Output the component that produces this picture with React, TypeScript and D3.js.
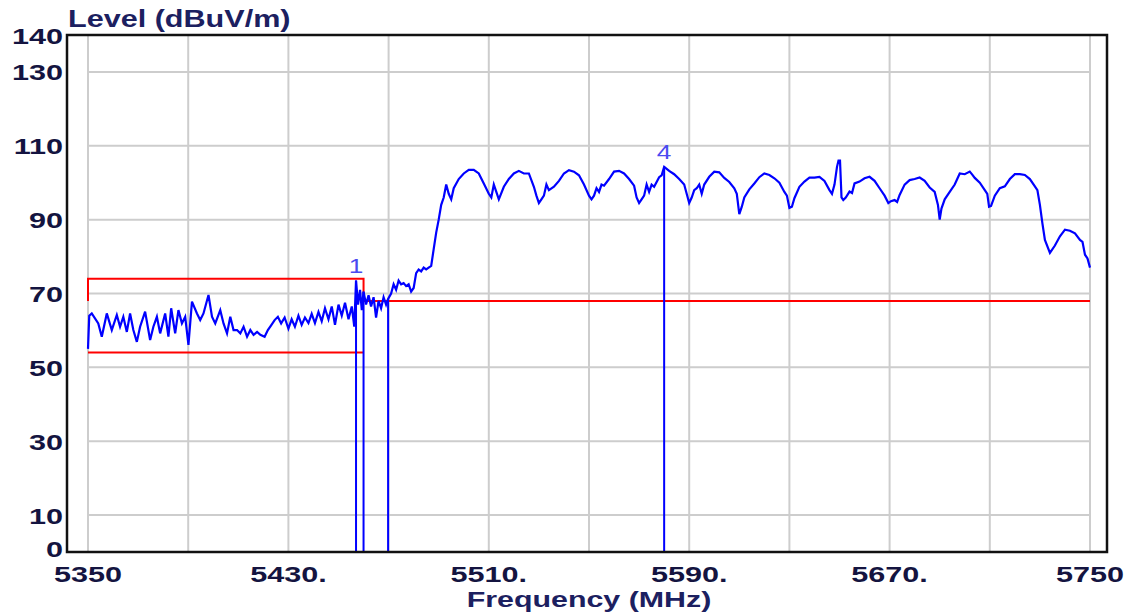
import React from "react";
import * as d3 from "d3";

const W = 1134;
const H = 613;

const xDomain: [number, number] = [5350, 5750];
const yDomain: [number, number] = [0, 140];
const xTicks = [5350, 5430, 5510, 5590, 5670, 5750];
const xTickLabels = ["5350", "5430.", "5510.", "5590.", "5670.", "5750"];
const xGrid = [5350, 5390, 5430, 5470, 5510, 5550, 5590, 5630, 5670, 5710, 5750];
const yTicks = [0, 10, 30, 50, 70, 90, 110, 130, 140];
const yGrid = [10, 30, 50, 70, 90, 110, 130];

const yTitle = "Level (dBuV/m)";
const xTitle = "Frequency (MHz)";

// Limit lines (MHz, dBuV/m)
const peakLimit: [number, number][] = [
  [5350, 68], [5350, 74], [5460, 74], [5460, 68], [5750, 68],
];
const avgLimit: [number, number][] = [
  [5350, 54], [5460, 54],
];

// Markers
const markerNames = ["1", "2", "3", "4"];
const markerFreq = [5457, 5460, 5469.8, 5580];
const markerLevel = [73.5, 70.5, 68.5, 104.3];
const markerShowLabel = [true, false, false, true];

// Measured trace (MHz, dBuV/m)
const trace: [number, number][] = [
  [5350, 55], [5350.5, 64], [5351.5, 64.6], [5354.1, 61.9], [5355.5, 58.3], [5357.5, 64.6],
  [5359.5, 60.1], [5361.5, 64.2], [5362.8, 61.0], [5364.1, 63.7], [5365.5, 59.6], [5366.8, 64.6],
  [5368.1, 60.1], [5369.5, 56.9], [5370.8, 61.0], [5372.8, 65.1], [5374.8, 57.4], [5376.1, 61.0],
  [5377.5, 63.7], [5378.8, 59.2], [5380.8, 64.6], [5382.1, 58.3], [5383.2, 66.0], [5384.8, 59.2],
  [5386.1, 65.5], [5387.5, 61.9], [5388.8, 63.7], [5390.1, 56.1], [5391.5, 67.8], [5393.5, 64.6],
  [5394.8, 62.8], [5396.1, 64.6], [5398.1, 69.6], [5399.5, 63.7], [5400.8, 61.9], [5402.8, 65.5],
  [5404.1, 61.9], [5405.5, 59.2], [5406.8, 63.7], [5408.1, 60.1], [5409.5, 60.1], [5410.8, 59.2],
  [5412.1, 61.0], [5413.5, 58.3], [5414.8, 60.1], [5416.1, 58.8], [5417.5, 59.6], [5418.8, 58.8],
  [5420.5, 58.3], [5421.8, 60.1], [5423.1, 61.4], [5424.5, 62.8], [5425.8, 63.7], [5427.1, 61.9],
  [5428.5, 63.5], [5430, 60.5], [5431.3, 63], [5432.6, 61], [5434, 64], [5435.3, 61.5],
  [5436.6, 63.5], [5438, 62], [5439.3, 64.5], [5440.6, 62], [5442, 65], [5443.3, 62.5],
  [5444.6, 66], [5446, 63], [5447.3, 66.5], [5448.6, 61.5], [5450, 67], [5451.3, 64],
  [5452.6, 67.5], [5454, 63], [5455.3, 66.5], [5456.3, 61], [5457, 73.5], [5457.8, 67],
  [5458.6, 71], [5459.3, 65.5], [5460, 70.5], [5461, 67], [5462, 69.5], [5463, 66.5],
  [5464, 69], [5465, 63.5], [5466, 68], [5467, 66], [5468, 69], [5469, 67],
  [5469.8, 68.5], [5471, 70], [5472, 72.5], [5473, 71], [5474, 73.5], [5475, 72.5],
  [5476, 72.8], [5477, 72], [5478, 72.5], [5479, 70.5], [5480, 71.5], [5481, 75.5],
  [5482, 76.5], [5483, 76], [5484, 77], [5485, 76.5], [5486, 77], [5487, 77.5],
  [5488, 82], [5489, 86.5], [5490, 90], [5491, 94], [5492, 96], [5493, 99.5],
  [5494, 97], [5495, 95.5], [5496, 98.5], [5498, 101], [5500, 102.5], [5502, 103.5],
  [5504, 103.5], [5506, 102.5], [5508, 99.8], [5510, 97], [5511, 96], [5512, 99.5],
  [5513, 97.5], [5514, 95.5], [5516, 98.9], [5518, 101], [5520, 102.5], [5522, 103.2],
  [5524, 102.5], [5526, 102.5], [5528, 98.9], [5529, 96.5], [5530, 94.5], [5531, 95.5],
  [5532, 96.5], [5533, 99.5], [5534, 98], [5536, 98.9], [5538, 100.5], [5540, 102.5],
  [5542, 103.4], [5544, 103], [5546, 102], [5548, 99.5], [5550, 96.5], [5551, 95.5],
  [5552, 96.5], [5553, 98.5], [5554, 97.5], [5555, 99.5], [5556, 99.2], [5558, 101],
  [5560, 103], [5562, 103.2], [5564, 102.5], [5566, 101], [5568, 99.2], [5569, 96],
  [5570, 94.5], [5571, 95.5], [5572, 96.5], [5573, 99.5], [5574, 97.5], [5575, 99.5],
  [5576, 98.9], [5578, 101.5], [5579, 102], [5580, 104.3], [5582, 103.2], [5584, 102.3],
  [5586, 101], [5588, 99.5], [5589, 97], [5590, 94.5], [5591, 96], [5592, 98],
  [5593, 98.5], [5594, 99.5], [5595, 97], [5596, 99.5], [5598, 101.6], [5600, 103],
  [5602, 102.8], [5604, 101.3], [5606, 100.2], [5608, 98.5], [5609, 97], [5610, 91.5],
  [5611, 93.5], [5612, 96], [5614, 98.2], [5616, 99.8], [5618, 101.5], [5620, 102.5],
  [5622, 102.1], [5624, 101.2], [5626, 100], [5628, 97.5], [5629, 96.5], [5630, 93.2],
  [5631, 93.5], [5632, 95.8], [5634, 98.9], [5636, 100.3], [5638, 101.4], [5640, 101.4],
  [5642, 101.6], [5644, 100.5], [5646, 98], [5647, 97], [5648, 99.5], [5649, 104.3],
  [5649.6, 106], [5650.2, 106], [5650.8, 96], [5651.5, 95.3], [5652.5, 96], [5654, 97.6],
  [5655, 97.2], [5656, 99.8], [5658, 100.3], [5660, 101.2], [5662, 101.6], [5664, 100.5],
  [5666, 98.5], [5668, 96.5], [5669.5, 94.5], [5670.5, 95], [5672, 95.3], [5673, 94.8],
  [5674, 96.7], [5676, 99.5], [5678, 100.7], [5680, 101], [5682, 101.4], [5684, 100.5],
  [5686, 98.7], [5688, 97.5], [5689.3, 94], [5690, 90], [5690.7, 93], [5692, 95.5],
  [5694, 97.5], [5696, 99.5], [5698, 102.5], [5700, 102.3], [5702, 103], [5703, 102.2],
  [5704, 101.3], [5706, 100], [5708, 98], [5709, 97], [5709.7, 93.5], [5710.5, 93.7],
  [5712, 96.5], [5714, 98.5], [5716, 99], [5718, 101], [5720, 102.3], [5722, 102.3],
  [5724, 102.1], [5726, 101], [5728, 99], [5729, 98], [5730, 94], [5731, 89],
  [5732, 84.5], [5734, 81], [5736, 83], [5738, 85.5], [5740, 87.3], [5742, 87],
  [5744, 86.3], [5746, 84.5], [5747, 84], [5748, 80.5], [5749, 79.5], [5750, 77],
];

const FONT = "'Liberation Sans', Arial, sans-serif";
const TEXT_COLOR = "#141440";
const STRETCH = 1.33;

export default function App() {
  const x = d3.scaleLinear().domain(xDomain).range([88, 1090]);
  const y = d3.scaleLinear().domain(yDomain).range([552, 35]);
  const line = d3
    .line<[number, number]>()
    .x((d) => x(d[0]))
    .y((d) => y(d[1]));

  const frameLeft = 67;
  const frameRight = 1107;

  return (
    <div style={{ position: "absolute", left: 0, top: 0 }}>
      <svg width={W} height={H} style={{ display: "block", background: "#fff" }}>
        <rect x={0} y={0} width={W} height={H} fill="#fff" />
        {/* grid */}
        {xGrid.map((f) => (
          <line key={"gx" + f} x1={x(f)} x2={x(f)} y1={y(140)} y2={y(0)} stroke="#cdcdcd" strokeWidth={2} />
        ))}
        {yGrid.map((v) => (
          <line key={"gy" + v} x1={x(5350)} x2={x(5750)} y1={y(v)} y2={y(v)} stroke="#cdcdcd" strokeWidth={2} />
        ))}
        {/* limits */}
        <path d={line(peakLimit) || ""} fill="none" stroke="#ff0000" strokeWidth={2} />
        <path d={line(avgLimit) || ""} fill="none" stroke="#ff0000" strokeWidth={2} />
        {/* markers */}
        {markerFreq.map((f, i) => (
          <line key={"m" + i} x1={x(f)} x2={x(f)} y1={y(0)} y2={y(markerLevel[i])} stroke="#0000ff" strokeWidth={2} />
        ))}
        {/* trace */}
        <path d={line(trace) || ""} fill="none" stroke="#0000ff" strokeWidth={2.2} strokeLinejoin="miter" />
        {markerFreq.map((f, i) =>
          markerShowLabel[i] ? (
            <text
              key={"ml" + i}
              transform={`translate(${x(f)},${y(markerLevel[i]) - 8}) scale(1.25,1)`}
              textAnchor="middle"
              fontFamily={FONT}
              fontSize={21}
              fill="#4a4af0"
            >
              {markerNames[i]}
            </text>
          ) : null
        )}
        {/* frame */}
        <rect
          x={frameLeft}
          y={y(140)}
          width={frameRight - frameLeft}
          height={y(0) - y(140)}
          fill="none"
          stroke="#111"
          strokeWidth={2.5}
        />
        {/* y tick labels */}
        {yTicks.map((v) => (
          <text
            key={"yt" + v}
            transform={`translate(63,${y(v) + (v === 0 ? 4.5 : 8.5)}) scale(1.39,1)`}
            textAnchor="end"
            fontFamily={FONT}
            fontWeight="bold"
            fontSize={22}
            fill={TEXT_COLOR}
          >
            {String(v)}
          </text>
        ))}
        {/* x tick labels */}
        {xTicks.map((f, i) => (
          <text
            key={"xt" + f}
            transform={`translate(${x(f)},581.5) scale(1.39,1)`}
            textAnchor="middle"
            fontFamily={FONT}
            fontWeight="bold"
            fontSize={22}
            fill={TEXT_COLOR}
          >
            {xTickLabels[i]}
          </text>
        ))}
        {/* titles */}
        <text
          transform={`translate(68,26.5) scale(${STRETCH},1)`}
          fontFamily={FONT}
          fontWeight="bold"
          fontSize={23}
          fill="#1c2060"
        >
          {yTitle}
        </text>
        <text
          transform={`translate(${(x(5350) + x(5750)) / 2},606.5) scale(1.38,1)`}
          textAnchor="middle"
          fontFamily={FONT}
          fontWeight="bold"
          fontSize={22}
          fill="#1c2060"
        >
          {xTitle}
        </text>
      </svg>
    </div>
  );
}
